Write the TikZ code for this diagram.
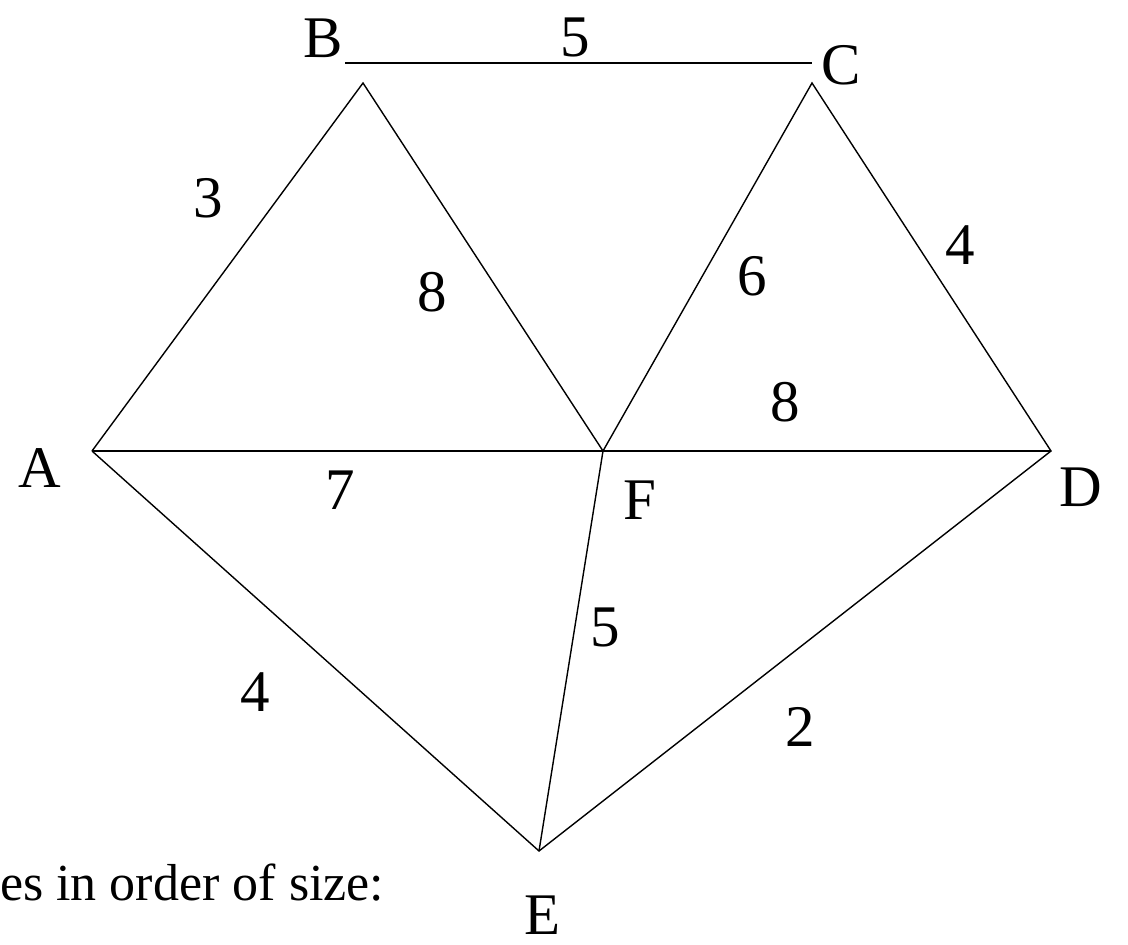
\documentclass[tikz,border=0pt]{standalone}
\usepackage{fontspec}
\setmainfont{Liberation Serif}
\usetikzlibrary{positioning}

\begin{document}
\begin{tikzpicture}[
    x=1pt, y=-1pt,
    font=\fontsize{59}{61}\selectfont,
    edge/.style={line width=1.4pt, black},
    topedge/.style={line width=2.2pt, black},
    vlbl/.style={inner sep=0pt},
    wlbl/.style={inner sep=0pt}]

  \useasboundingbox (0,0) rectangle (1128,945);

  % vertices
  \coordinate (A) at (92,451);
  \coordinate (B) at (363,83);
  \coordinate (C) at (812,83);
  \coordinate (D) at (1051,451);
  \coordinate (E) at (539,851);
  \coordinate (F) at (603,451);
  \coordinate (bcl) at (345,63);
  \coordinate (bcr) at (812,63);

  % vertex labels
  \node[vlbl] (lA) at (40,468) {A};
  \node[vlbl] (lB) at (323,38) {B};
  \node[vlbl] (lC) at (841,65) {C};
  \node[vlbl] (lD) at (1081,487) {D};
  \node[vlbl] (lE) at (543,915) {E};
  \node[vlbl] (lF) at (640,500) {F};

  % edges
  \draw[topedge] (bcl) -- (bcr);
  \draw[edge] (A) -- (B) -- (F) -- (C) -- (D) -- (E) -- (A);
  \draw[edge] (A) -- (D);
  \draw[edge] (F) -- (E);

  % weights
  \node[wlbl] (wBC) at (575,37) {5};
  \node[wlbl] (wAB) at (208,198) {3};
  \node[wlbl] (wBF) at (432,292) {8};
  \node[wlbl] (wCF) at (752,276) {6};
  \node[wlbl] (wCD) at (960,245) {4};
  \node[wlbl] (wFD) at (785,402) {8};
  \node[wlbl] (wAF) at (340,490) {7};
  \node[wlbl] (wFE) at (605,627) {5};
  \node[wlbl] (wAE) at (255,692) {4};
  \node[wlbl] (wED) at (800,727) {2};

  \node[inner sep=0pt, anchor=base west, font=\fontsize{52}{54}\selectfont]
    (caption) at (0,900) {es in order of size:};
\end{tikzpicture}
\end{document}
